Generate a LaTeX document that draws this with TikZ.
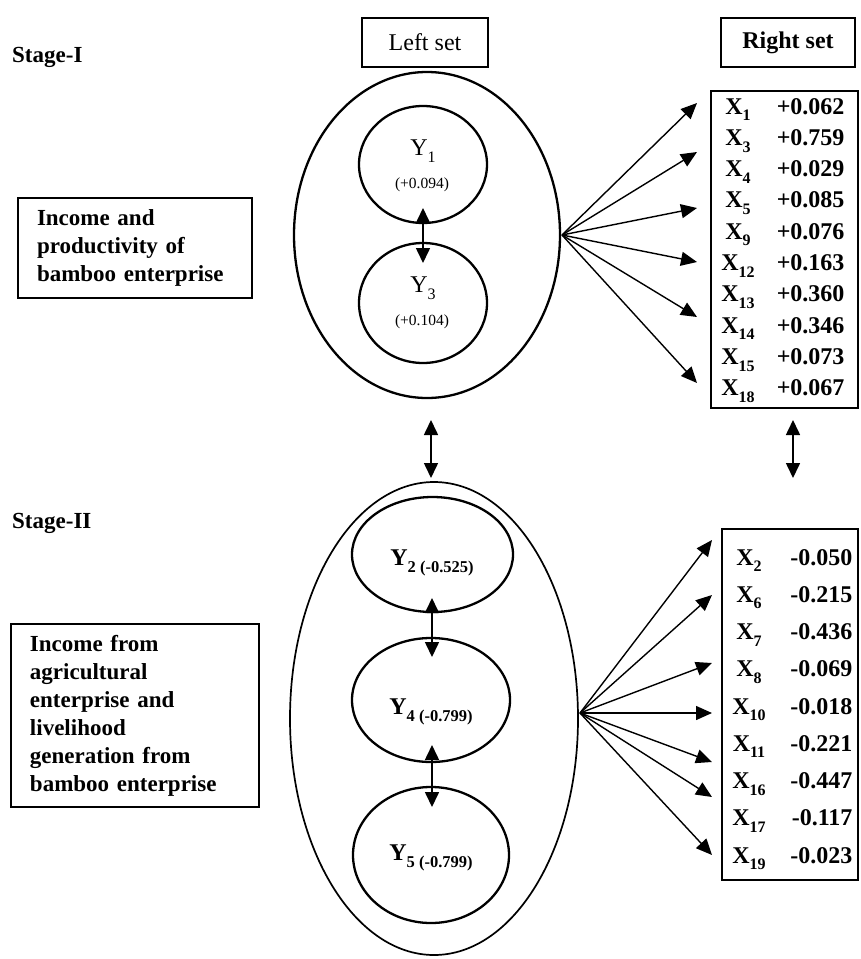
\documentclass[tikz,border=0pt]{standalone}
\usepackage{fontspec}
\setmainfont{Liberation Serif}
\usetikzlibrary{arrows.meta,shapes.geometric}
\newcommand\sbs[2][16]{\raisebox{-0.28em}{\fontsize{#1}{#1}\selectfont #2}}
\begin{document}
\begin{tikzpicture}[x=1pt,y=-1pt,
  oval/.style={draw,ellipse,inner sep=0pt,line width=2.3pt},
  box/.style={draw,rectangle,inner sep=0pt,line width=2.8pt},
  dbl/.style={{Triangle[length=15pt,width=14pt]}-{Triangle[length=15pt,width=14pt]},line width=1.6pt},
  fan/.style={-{Triangle[length=16pt,width=14pt]},line width=1.4pt},
  big/.style={font=\fontsize{23}{28}\selectfont\bfseries},
  head/.style={font=\fontsize{24}{24}\selectfont},
  xlab/.style={anchor=base,font=\fontsize{24}{24}\selectfont\bfseries},
  xval/.style={anchor=base east,font=\fontsize{24}{24}\selectfont\bfseries}]
\useasboundingbox (0,0) rectangle (861,959);

% stage labels
\node[big,anchor=base west,inner sep=0pt] (s1) at (12,62) {Stage-I};
\node[big,anchor=base west,inner sep=0pt] (s2) at (12,528) {Stage-II};

% description boxes
\node[box,big,minimum width=234pt,minimum height=100pt,text width=196pt,align=left] (b1) at (135,248)
  {Income and\\productivity of\\bamboo enterprise};
\node[box,big,minimum width=248pt,minimum height=183pt,text width=210pt,align=left] (b2) at (135,715.5)
  {Income from\\agricultural\\enterprise and\\livelihood\\generation from\\bamboo enterprise};

% headers
\node[box,head,minimum width=126pt,minimum height=49pt] (ls) at (425,42.5) {Left set};
\node[box,head,minimum width=134pt,minimum height=49pt,font=\fontsize{24}{24}\selectfont\bfseries] (rs) at (788,42.5) {Right set};

% stage I ellipses
\node[oval,minimum width=266pt,minimum height=326pt] (o1) at (427,235) {};
\node[oval,minimum width=128pt,minimum height=117pt] (y1) at (423,164.5) {};
\node[oval,minimum width=128pt,minimum height=120pt] (y3) at (423,303) {};
\node[head] (ty1) at (423,151) {Y\sbs{1}};
\node[font=\fontsize{15.5}{16}\selectfont] (vy1) at (422,185) {(+0.094)};
\node[head] (ty3) at (423,288) {Y\sbs{3}};
\node[font=\fontsize{15.5}{16}\selectfont] (vy3) at (422,322) {(+0.104)};
\coordinate (a1) at (423,208);
\coordinate (a2) at (423,263);
\draw[dbl] (a1) -- (a2);

% stage II ellipses
\node[oval,line width=1.7pt,minimum width=288pt,minimum height=473pt] (o2) at (434,718.5) {};
\node[oval,minimum width=161pt,minimum height=115pt] (y2) at (432.5,554.5) {};
\node[oval,minimum width=158pt,minimum height=124pt] (y4) at (431,700) {};
\node[oval,minimum width=156pt,minimum height=136pt] (y5) at (431,855) {};
\node[head,font=\fontsize{24}{24}\selectfont\bfseries] (ty2) at (432,563) {Y\sbs[16.5]{2 (-0.525)}};
\node[head,font=\fontsize{24}{24}\selectfont\bfseries] (ty4) at (431,712) {Y\sbs[16.5]{4 (-0.799)}};
\node[head,font=\fontsize{24}{24}\selectfont\bfseries] (ty5) at (431,858) {Y\sbs[16.5]{5 (-0.799)}};
\coordinate (a3) at (432,598);
\coordinate (a4) at (432,657);
\coordinate (a5) at (432,745);
\coordinate (a6) at (432,807);
\draw[dbl] (a3) -- (a4);
\draw[dbl] (a5) -- (a6);

% between stages
\coordinate (m1) at (431,420);
\coordinate (m2) at (431,478);
\draw[dbl] (m1) -- (m2);
\coordinate (r1) at (793,420);
\coordinate (r2) at (793,478);
\draw[dbl] (r1) -- (r2);

% tables
\node[box,minimum width=147pt,minimum height=317pt] (tab1) at (784.5,249.5) {};
\node[box,minimum width=136pt,minimum height=351pt] (tab2) at (790,704.5) {};

\foreach \s/\v [count=\i from 0] in {1/+0.062,3/+0.759,4/+0.029,5/+0.085,9/+0.076,12/+0.163,13/+0.360,14/+0.346,15/+0.073,18/+0.067}{
  \node[xlab] (xa\i) at (738,{114+31.3*\i}) {X\sbs{\s}};
  \node[xval] (va\i) at (848,{114+31.3*\i}) {\v};
}
\foreach \s/\v [count=\i from 0] in {2/-0.050,6/-0.215,7/-0.436,8/-0.069,10/-0.018,11/-0.221,16/-0.447,17/-0.117,19/-0.023}{
  \node[xlab] (xb\i) at (749,{565+37.25*\i}) {X\sbs{\s}};
  \node[xval] (vb\i) at (856,{565+37.25*\i}) {\v};
}

% fans
\coordinate (f1) at (562,235);
\foreach \y [count=\i] in {103,152,208,262,317,383}{
  \coordinate (t1-\i) at (697,\y);
  \draw[fan] (f1) -- (t1-\i);
}
\coordinate (f2) at (580,713);
\foreach \y [count=\i] in {540,595,663,713,762,797,855}{
  \coordinate (t2-\i) at (712,\y);
  \draw[fan] (f2) -- (t2-\i);
}
\end{tikzpicture}
\end{document}
